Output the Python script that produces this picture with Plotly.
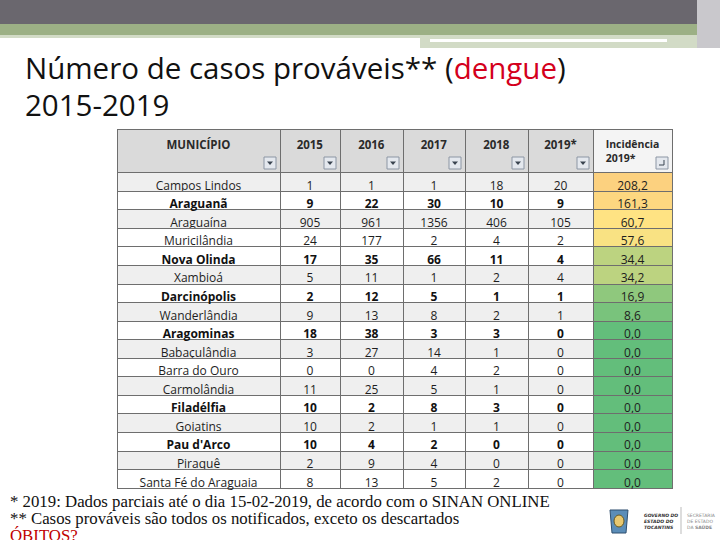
import plotly.graph_objects as go

W, H = 720, 540

municipios = ["Campos Lindos", "Araguanã", "Araguaína", "Muricilândia", "Nova Olinda",
              "Xambioá", "Darcinópolis", "Wanderlândia", "Aragominas", "Babaçulândia",
              "Barra do Ouro", "Carmolândia", "Filadélfia", "Goiatins", "Pau d'Arco",
              "Piraquê", "Santa Fé do Araguaia"]
c2015 = [1, 9, 905, 24, 17, 5, 2, 9, 18, 3, 0, 11, 10, 10, 10, 2, 8]
c2016 = [1, 22, 961, 177, 35, 11, 12, 13, 38, 27, 0, 25, 2, 2, 4, 9, 13]
c2017 = [1, 30, 1356, 2, 66, 1, 5, 8, 3, 14, 4, 5, 8, 1, 2, 4, 5]
c2018 = [18, 10, 406, 4, 11, 2, 1, 2, 3, 1, 2, 1, 3, 1, 0, 0, 2]
c2019 = [20, 9, 105, 2, 4, 4, 1, 1, 0, 0, 0, 0, 0, 0, 0, 0, 0]
incid2019 = [208.2, 161.3, 60.7, 57.6, 34.4, 34.2, 16.9, 8.6, 0.0, 0.0, 0.0, 0.0,
             0.0, 0.0, 0.0, 0.0, 0.0]
headers = ["MUNICÍPIO", "2015", "2016", "2017", "2018", "2019*", "Incidência<br>2019*"]
bold_rows = ["Araguanã", "Nova Olinda", "Darcinópolis", "Aragominas", "Filadélfia", "Pau d'Arco"]

# ---- geometry (pixels) ----
tx0, tx1 = 117, 672
ty0, head_h, row_h = 129, 43, 18.56
col_w = [163, 60, 63, 62, 63, 65, 79]
ty1 = ty0 + head_h + row_h * len(municipios) + 6


def px(x):
    return x / W


def py(y):
    return 1 - y / H


# ---- colours for incidence (colour scale) ----
def hex2rgb(h):
    h = h.lstrip("#")
    return [int(h[i:i + 2], 16) for i in (0, 2, 4)]


stops = [(0, "#63BE7B"), (60, "#FFE383"), (210, "#FCD17F")]


def scale_color(v):
    for (a, ca), (b, cb) in zip(stops[:-1], stops[1:]):
        if v <= b:
            t = (v - a) / (b - a)
            A, B = hex2rgb(ca), hex2rgb(cb)
            return "rgb(%d,%d,%d)" % tuple(round(A[i] + t * (B[i] - A[i])) for i in range(3))
    return stops[-1][1]


inc_fill = [scale_color(v) for v in incid2019]
row_shade = [1, 0, 1, 0, 0, 1, 0, 1, 0, 1, 0, 1, 0, 1, 0, 1, 0]
base_fill = ["#EFEFEF" if s else "#FFFFFF" for s in row_shade]

cols = [c2015, c2016, c2017, c2018, c2019]
is_bold = [m in bold_rows for m in municipios]
all_cols = [municipios] + [[str(v) for v in c] for c in cols]
normal_vals = [[v if not b else " " for v, b in zip(col, is_bold)] for col in all_cols]
bold_vals = [[v if b else " " for v, b in zip(col, is_bold)] for col in all_cols]
inc_text = [("%.1f" % v).replace(".", ",") for v in incid2019]
normal_vals.append(inc_text)
bold_vals.append([" "] * len(municipios))

fills = [base_fill] * 6 + [inc_fill]
domain = dict(x=[px(tx0), px(tx1)], y=[py(ty1), py(ty0)])
clear = "rgba(0,0,0,0)"
head_vals = ["<b>%s</b>" % h for h in headers]
head_sizes = [11.5] * 6 + [10.5]

fig = go.Figure()
fig.add_trace(go.Table(
    domain=domain,
    columnwidth=col_w,
    header=dict(values=head_vals,
                fill_color=["#DADADA"] * 6 + ["#F4F4F4"],
                line=dict(color="#6E6E6E", width=1),
                font=dict(family="Open Sans", size=head_sizes, color="#2A2A2A"),
                align="center", height=head_h),
    cells=dict(values=normal_vals,
               fill_color=fills,
               line=dict(color="#6E6E6E", width=1),
               font=dict(family="Open Sans", size=12, color="#1E1E1E"),
               align="center", height=row_h)
))
fig.add_trace(go.Table(
    domain=domain,
    columnwidth=col_w,
    header=dict(values=head_vals, fill_color=clear, line=dict(color=clear, width=0),
                font=dict(family="Open Sans", size=head_sizes, color=clear), align="center",
                height=head_h),
    cells=dict(values=bold_vals, fill_color=clear, line=dict(color=clear, width=0),
               font=dict(family="Open Sans", size=12, color="#111111", weight="bold"),
               align="center", height=row_h)
))

shapes = []
# banner
shapes.append(dict(type="rect", xref="paper", yref="paper", x0=0, x1=1, y0=py(24), y1=1,
                   fillcolor="#6A676E", line_width=0, layer="below"))
shapes.append(dict(type="rect", xref="paper", yref="paper", x0=px(697), x1=1, y0=py(48), y1=1,
                   fillcolor="#C9C8CC", line_width=0, layer="below"))
shapes.append(dict(type="rect", xref="paper", yref="paper", x0=0, x1=px(697), y0=py(35), y1=py(24),
                   fillcolor="#9CB085", line_width=0, layer="below"))
shapes.append(dict(type="rect", xref="paper", yref="paper", x0=0, x1=px(440), y0=py(38), y1=py(35),
                   fillcolor="#D2DBC6", line_width=0, layer="below"))
shapes.append(dict(type="rect", xref="paper", yref="paper", x0=px(420), x1=px(697), y0=py(48), y1=py(35),
                   fillcolor="#D2DBC6", line_width=0, layer="below"))
shapes.append(dict(type="rect", xref="paper", yref="paper", x0=px(430), x1=px(667), y0=py(42), y1=py(39),
                   fillcolor="#FFFFFF", line_width=0, layer="below"))

# filter dropdown buttons in header
ann = []
xe = tx0
for i, w in enumerate(col_w):
    xe += w
    bx1, bx0 = xe - 4, xe - 16
    by1, by0 = ty0 + head_h - 3, ty0 + head_h - 15
    shapes.append(dict(type="rect", xref="paper", yref="paper", x0=px(bx0), x1=px(bx1),
                       y0=py(by1), y1=py(by0), fillcolor="#E4E8EE",
                       line=dict(color="#8C96A4", width=1)))
    cx, cy = (bx0 + bx1) / 2, (by0 + by1) / 2
    if i < 6:
        shapes.append(dict(type="path", xref="paper", yref="paper",
                           path="M %f %f L %f %f L %f %f Z" % (px(cx - 3), py(cy - 1.5),
                                                             px(cx + 3), py(cy - 1.5),
                                                             px(cx), py(cy + 2)),
                           fillcolor="#3A4450", line_width=0))
    else:
        shapes.append(dict(type="path", xref="paper", yref="paper",
                           path="M %f %f L %f %f L %f %f" % (px(cx + 2), py(cy - 3),
                                                            px(cx + 2), py(cy + 2),
                                                            px(cx - 3), py(cy + 2)),
                           line=dict(color="#3A4450", width=1)))

# title
ann.append(dict(x=px(23), y=py(68), xref="paper", yref="paper", xanchor="left", yanchor="middle",
                text="Número de casos prováveis** (<span style='color:#D4001C'>dengue</span>)",
                showarrow=False, font=dict(family="Open Sans", size=29.5, color="#111111")))
ann.append(dict(x=px(23), y=py(104), xref="paper", yref="paper", xanchor="left", yanchor="middle",
                text="2015-2019", showarrow=False,
                font=dict(family="Open Sans", size=29.5, color="#111111")))

# footnotes
notes = [("* 2019: Dados parciais até o dia 15-02-2019, de acordo com o SINAN ONLINE", 501, "#111111"),
         ("** Casos prováveis são todos os notificados, exceto os descartados", 518, "#111111"),
         ("ÓBITOS?", 535, "#C00000")]
for t, y, c in notes:
    ann.append(dict(x=px(8), y=py(y), xref="paper", yref="paper", xanchor="left", yanchor="middle",
                    text=t, showarrow=False,
                    font=dict(family="Liberation Serif", size=16.8, color=c)))

# logo
shapes.append(dict(type="path", xref="paper", yref="paper",
                   path="M %f %f L %f %f L %f %f L %f %f Z" % (px(610), py(510), px(628), py(510),
                                                             px(626), py(533), px(612), py(533)),
                   fillcolor="#5B8DB8", line=dict(color="#2F4F6F", width=1)))
shapes.append(dict(type="circle", xref="paper", yref="paper", x0=px(614), x1=px(624), y0=py(527),
                   y1=py(515), fillcolor="#E8C870", line=dict(color="#6A5A20", width=1)))
shapes.append(dict(type="line", xref="paper", yref="paper", x0=px(681), x1=px(681), y0=py(534),
                   y1=py(507), line=dict(color="#BBBBBB", width=1)))
ann.append(dict(x=px(642), y=py(521), xref="paper", yref="paper", xanchor="left", yanchor="middle",
                text="<b><i>GOVERNO DO<br>ESTADO DO<br>TOCANTINS</i></b>", showarrow=False,
                align="left", font=dict(family="DejaVu Sans", size=4.5, color="#333333")))
ann.append(dict(x=px(685), y=py(521), xref="paper", yref="paper", xanchor="left", yanchor="middle",
                text="SECRETARIA<br>DE ESTADO<br>DA <b>SAÚDE</b>", showarrow=False,
                align="left", font=dict(family="DejaVu Sans", size=4.5, color="#888888")))

fig.update_layout(width=W, height=H, margin=dict(l=0, r=0, t=0, b=0),
                  paper_bgcolor="white", plot_bgcolor="white",
                  shapes=shapes, annotations=ann, showlegend=False)
fig.write_html("out.html", post_script="document.body.style.margin='0';",
               config={"displayModeBar": False})
